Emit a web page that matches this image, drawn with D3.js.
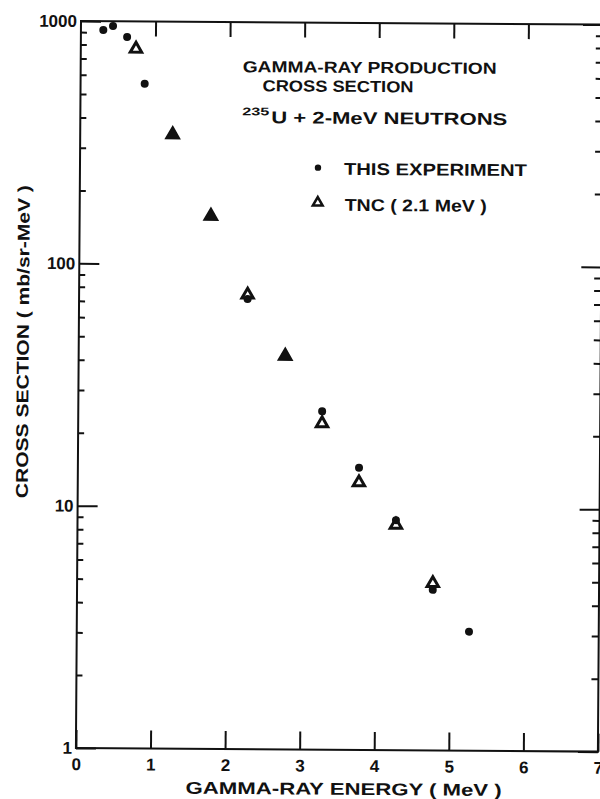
<!DOCTYPE html>
<html>
<head>
<meta charset="utf-8">
<script src="https://cdn.jsdelivr.net/npm/d3@7"></script>
<style>
  body { margin: 0; background: #fff; }
  svg { display: block; }
  text { font-family: "Liberation Sans", Arial, sans-serif; font-weight: bold; fill: #111; }
</style>
</head>
<body>
<svg id="chart"></svg>
<script>
const energyExp = [0.30, 0.43, 0.62, 0.86, 1.24, 1.76, 2.26, 2.77, 3.27, 3.77, 4.27, 4.77, 5.26];
const sigmaExp = [920, 956, 862, 553, 342, 158, 72, 42, 24.9, 14.6, 8.9, 4.6, 3.1];
const energyTnc = [0.74, 1.24, 1.76, 2.26, 2.77, 3.27, 3.77, 4.27, 4.77];
const sigmaTnc = [770, 342, 158, 75, 42, 22.2, 12.7, 8.5, 4.9];
const xTicks = [0, 1, 2, 3, 4, 5, 6, 7];
const yMajor = [1, 10, 100, 1000];
const yLabels = ["1", "10", "100", "1000"];

const width = 600, height = 799;
const padLeft = 81, padTop = 21;
const plotW = 522, plotH = 727;

const svg = d3.select("#chart").attr("width", width).attr("height", height);

// scan is slightly rotated
const g = svg.append("g").attr("transform", `rotate(0.4, ${padLeft}, ${padTop})`);

const x = d3.scaleLinear().domain([0, 7]).range([padLeft, padLeft + plotW]);
const y = d3.scaleLog().domain([1, 1000]).range([padTop + plotH, padTop]);

const yMinor = [];
[1, 10, 100].forEach(d => { for (let k = 2; k <= 9; k++) yMinor.push(d * k); });

function styleAxis(sel) {
    sel.select(".domain").remove();
    sel.selectAll(".tick line").attr("stroke", "#111").attr("stroke-width", 2);
    sel.selectAll(".tick text").attr("font-size", 17).attr("fill", "#111")
        .attr("font-family", "'Liberation Sans', Arial, sans-serif").attr("font-weight", "bold");
}

// left axis
g.append("g").attr("transform", `translate(${padLeft},0)`)
    .call(d3.axisLeft(y).tickValues(yMinor).tickSize(-6).tickFormat(""))
    .call(styleAxis);
g.append("g").attr("transform", `translate(${padLeft},0)`)
    .call(d3.axisLeft(y).tickValues(yMajor).tickSize(-20).tickPadding(4)
        .tickFormat((d, i) => yLabels[i]))
    .call(styleAxis);

// right axis
g.append("g").attr("transform", `translate(${padLeft + plotW},0)`)
    .call(d3.axisRight(y).tickValues(yMinor).tickSize(-7).tickFormat(""))
    .call(styleAxis);
g.append("g").attr("transform", `translate(${padLeft + plotW},0)`)
    .call(d3.axisRight(y).tickValues(yMajor).tickSize(-20).tickFormat(""))
    .call(styleAxis);

// bottom axis
g.append("g").attr("transform", `translate(0,${padTop + plotH})`)
    .call(d3.axisBottom(x).tickValues(xTicks).tickSize(-18).tickPadding(10).tickFormat(d3.format("d")))
    .call(styleAxis);

// top axis
g.append("g").attr("transform", `translate(0,${padTop})`)
    .call(d3.axisTop(x).tickValues(xTicks.slice(1, 7)).tickSize(-15).tickFormat(""))
    .call(styleAxis);

// frame
g.append("rect")
    .attr("x", padLeft).attr("y", padTop)
    .attr("width", plotW).attr("height", plotH)
    .attr("fill", "none").attr("stroke", "#111").attr("stroke-width", 2);

// axis titles
g.append("text")
    .attr("x", 349).attr("y", 793)
    .attr("text-anchor", "middle")
    .attr("font-size", 17)
    .attr("textLength", 316).attr("lengthAdjust", "spacingAndGlyphs")
    .text("GAMMA-RAY ENERGY ( MeV )");

g.append("text")
    .attr("transform", "translate(31,342) rotate(-90)")
    .attr("text-anchor", "middle")
    .attr("font-size", 17)
    .attr("textLength", 313).attr("lengthAdjust", "spacingAndGlyphs")
    .text("CROSS SECTION ( mb/sr-MeV )");

// annotation
g.append("text").attr("x", 243).attr("y", 71).attr("font-size", 16)
    .attr("textLength", 254).attr("lengthAdjust", "spacingAndGlyphs")
    .text("GAMMA-RAY PRODUCTION");
g.append("text").attr("x", 263).attr("y", 90).attr("font-size", 16)
    .attr("textLength", 151).attr("lengthAdjust", "spacingAndGlyphs")
    .text("CROSS SECTION");
g.append("text").attr("x", 243).attr("y", 114).attr("font-size", 11)
    .attr("textLength", 27).attr("lengthAdjust", "spacingAndGlyphs")
    .text("235");
g.append("text").attr("x", 272).attr("y", 122).attr("font-size", 17)
    .attr("textLength", 236).attr("lengthAdjust", "spacingAndGlyphs")
    .text("U + 2-MeV NEUTRONS");

// legend
g.append("circle").attr("cx", 319).attr("cy", 166).attr("r", 3.2).attr("fill", "#111");
g.append("text").attr("x", 345).attr("y", 173).attr("font-size", 17)
    .attr("textLength", 183).attr("lengthAdjust", "spacingAndGlyphs")
    .text("THIS EXPERIMENT");
g.append("path")
    .attr("d", d3.symbol(d3.symbolTriangle, 40)())
    .attr("transform", "translate(319,201)")
    .attr("fill", "none").attr("stroke", "#111").attr("stroke-width", 2.6);
g.append("text").attr("x", 346).attr("y", 209).attr("font-size", 17)
    .attr("textLength", 142).attr("lengthAdjust", "spacingAndGlyphs")
    .text("TNC ( 2.1 MeV )");

// TNC open triangles
const tri = d3.symbol(d3.symbolTriangle, 56);
g.selectAll(".tnc")
    .data(energyTnc)
    .enter()
    .append("path")
    .attr("class", "tnc")
    .attr("d", tri())
    .attr("transform", (d, i) => `translate(${x(d)},${y(sigmaTnc[i])})`)
    .attr("fill", "none")
    .attr("stroke", "#111")
    .attr("stroke-width", 3);

// this experiment dots
g.selectAll(".exp")
    .data(energyExp)
    .enter()
    .append("circle")
    .attr("class", "exp")
    .attr("cx", d => x(d))
    .attr("cy", (d, i) => y(sigmaExp[i]))
    .attr("r", 4)
    .attr("fill", "#111");
</script>
</body>
</html>
